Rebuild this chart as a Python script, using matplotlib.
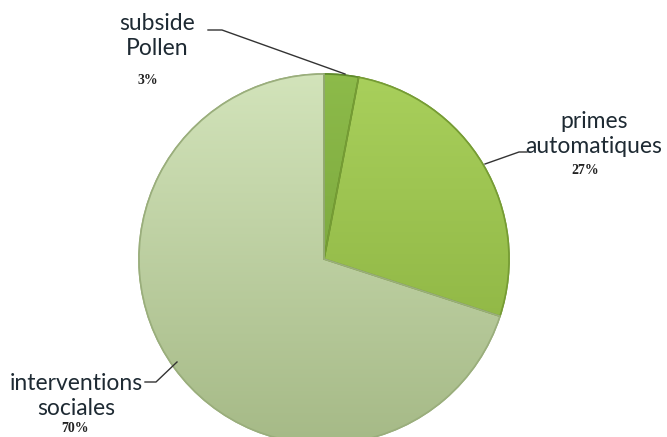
import matplotlib
matplotlib.use('Agg')
import matplotlib.pyplot as plt
import numpy as np
from matplotlib.colors import LinearSegmentedColormap

# Data
labels = ['subside\nPollen', 'primes\nautomatiques', 'interventions\nsociales']
shares = [3, 27, 70]
pct_labels = ['3%', '27%', '70%']
# top / bottom shade of each slice
shade_top = ['#8dbb4a', '#a9d05c', '#d3e4bb']
shade_bottom = ['#6f9a35', '#86ad3c', '#a5b986']
edge_colors = ['#5f8a2c', '#769c34', '#9aae7c']

W, H = 667, 437
fig = plt.figure(figsize=(W / 100, H / 100), dpi=100)
ax = fig.add_axes([0, 0, 1, 1])

# pie drawn in pixel-like coordinates (y measured from bottom)
cx, cy, r = 324, H - 259, 185
wedges, _ = ax.pie(shares, colors=shade_top, startangle=90, counterclock=False,
                   center=(cx, cy), radius=r, frame=True,
                   explode=[0, 0, 0.012],
                   wedgeprops=dict(linewidth=1.2))

# vertical gradient inside each wedge
grad = np.linspace(0, 1, 256).reshape(-1, 1)
for w, top, bot, ec in zip(wedges, shade_top, shade_bottom, edge_colors):
    w.set_edgecolor(ec)
    cmap = LinearSegmentedColormap.from_list('g', [top, bot])
    im = ax.imshow(grad, cmap=cmap, aspect='auto', origin='upper',
                   extent=(cx - r - 5, cx + r + 5, cy - r - 5, cy + r + 5),
                   zorder=w.get_zorder() + 0.1, interpolation='bilinear')
    im.set_clip_path(w)
    outline = plt.matplotlib.patches.Wedge(w.center, w.r, w.theta1, w.theta2,
                                           fill=False, edgecolor=ec, linewidth=1.2,
                                           zorder=w.get_zorder() + 0.2)
    ax.add_patch(outline)

ax.set_xlim(0, W)
ax.set_ylim(0, H)
ax.set_aspect('equal')
ax.axis('off')

# label positions (text centre) and leader lines
label_pos = [(157, H - 36), (594, H - 134), (76, H - 396)]
pct_pos = [(148, H - 80), (585, H - 171), (75, H - 428)]
leaders = [
    [(208, H - 30), (222, H - 30), (345, H - 74)],
    [(527, H - 152), (519, H - 152), (485, H - 164)],
    [(145, H - 382), (156, H - 382), (177, H - 362)],
]

for lab, (x, y) in zip(labels, label_pos):
    ax.text(x, y, lab, ha='center', va='center', fontsize=16.5,
            family='Lato', color='#1e2a33', linespacing=1.25, zorder=5)
for pct, (x, y) in zip(pct_labels, pct_pos):
    ax.text(x, y, pct, ha='center', va='center', fontsize=10,
            family='Liberation Serif', fontweight='bold', color='#222222', zorder=5)
for pts in leaders:
    xs, ys = zip(*pts)
    ax.plot(xs, ys, color='#333333', linewidth=1.0, zorder=5)

fig.savefig('out.png', dpi=100, facecolor='white')
